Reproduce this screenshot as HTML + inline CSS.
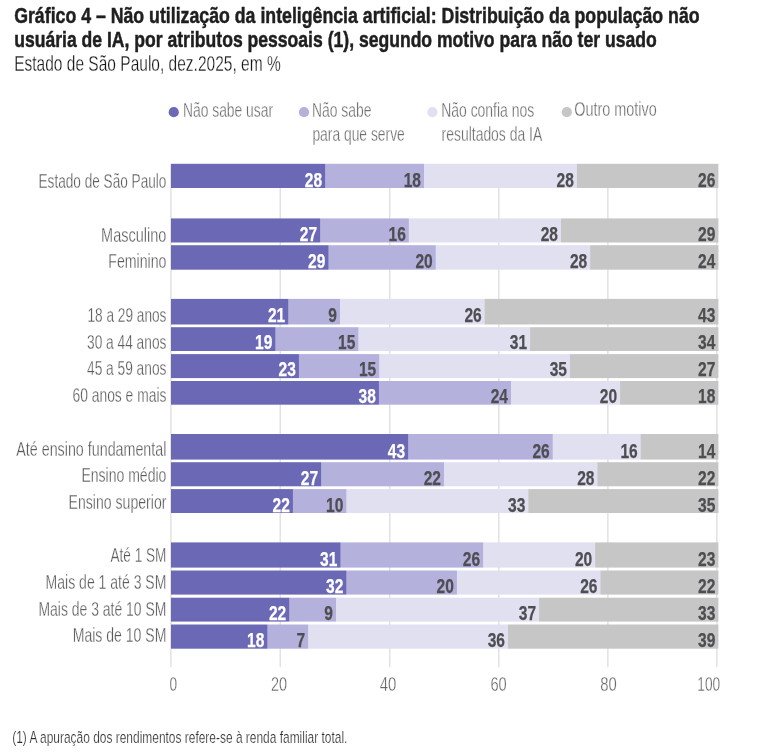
<!DOCTYPE html>
<html lang="pt-BR">
<head>
<meta charset="utf-8">
<title>Gráfico 4</title>
<style>
html,body{margin:0;padding:0;background:#ffffff;}
body{width:783px;height:754px;overflow:hidden;font-family:"Liberation Sans",sans-serif;}
svg{display:block;font-family:"Liberation Sans",sans-serif;will-change:transform;}
svg text{font-family:"Liberation Sans",sans-serif;}
</style>
</head>
<body>
<svg width="783" height="754" viewBox="0 0 783 754">
<rect x="0" y="0" width="783" height="754" fill="#ffffff"/>
<text x="14.20" y="22.50" font-size="22.5" fill="#1f1f1f" text-anchor="start" font-weight="bold" stroke="#1f1f1f" stroke-width="0.5" textLength="685.40" lengthAdjust="spacingAndGlyphs">Gráfico 4 – Não utilização da inteligência artificial: Distribuição da população não</text>
<text x="14.20" y="46.70" font-size="22.5" fill="#1f1f1f" text-anchor="start" font-weight="bold" stroke="#1f1f1f" stroke-width="0.5" textLength="642.50" lengthAdjust="spacingAndGlyphs">usuária de IA, por atributos pessoais (1), segundo motivo para não ter usado</text>
<text x="14.20" y="70.80" font-size="22" fill="#161616" text-anchor="start" stroke="#ffffff" stroke-width="0.3" textLength="266.50" lengthAdjust="spacingAndGlyphs">Estado de São Paulo, dez.2025, em %</text>
<circle cx="173.75" cy="112.2" r="5.1" fill="#6b69b5"/>
<circle cx="304.0" cy="112.2" r="5.1" fill="#b4b1dc"/>
<circle cx="432.4" cy="112.2" r="5.1" fill="#e1e0f0"/>
<circle cx="566.8" cy="112.2" r="5.1" fill="#c6c6c6"/>
<text x="183.00" y="116.80" font-size="19.7" fill="#6c6c6c" text-anchor="start" stroke="#ffffff" stroke-width="0.3" textLength="90.00" lengthAdjust="spacingAndGlyphs">Não sabe usar</text>
<text x="312.00" y="116.80" font-size="19.7" fill="#6c6c6c" text-anchor="start" stroke="#ffffff" stroke-width="0.3" textLength="59.40" lengthAdjust="spacingAndGlyphs">Não sabe</text>
<text x="312.40" y="140.70" font-size="19.7" fill="#6c6c6c" text-anchor="start" stroke="#ffffff" stroke-width="0.3" textLength="92.40" lengthAdjust="spacingAndGlyphs">para que serve</text>
<text x="441.20" y="116.80" font-size="19.7" fill="#6c6c6c" text-anchor="start" stroke="#ffffff" stroke-width="0.3" textLength="93.00" lengthAdjust="spacingAndGlyphs">Não confia nos</text>
<text x="441.60" y="140.70" font-size="19.7" fill="#6c6c6c" text-anchor="start" stroke="#ffffff" stroke-width="0.3" textLength="100.60" lengthAdjust="spacingAndGlyphs">resultados da IA</text>
<text x="574.20" y="115.90" font-size="19.7" fill="#6c6c6c" text-anchor="start" stroke="#ffffff" stroke-width="0.3" textLength="82.60" lengthAdjust="spacingAndGlyphs">Outro motivo</text>
<rect x="279.50" y="164" width="1.5" height="503" fill="#e2e2e2"/>
<rect x="389.00" y="164" width="1.5" height="503" fill="#e2e2e2"/>
<rect x="498.00" y="164" width="1.5" height="503" fill="#e2e2e2"/>
<rect x="607.10" y="164" width="1.5" height="503" fill="#e2e2e2"/>
<rect x="716.10" y="164" width="1.5" height="503" fill="#e2e2e2"/>
<rect x="170.1" y="164" width="1.6" height="503" fill="#e4e4e4"/>
<linearGradient id="g0" gradientUnits="userSpaceOnUse" x1="171.0" y1="0" x2="718.4" y2="0"><stop offset="0" stop-color="#6b69b5"/><stop offset="0.28060" stop-color="#6b69b5"/><stop offset="0.28243" stop-color="#b4b1dc"/><stop offset="0.46127" stop-color="#b4b1dc"/><stop offset="0.46310" stop-color="#e1e0f0"/><stop offset="0.74059" stop-color="#e1e0f0"/><stop offset="0.74242" stop-color="#c6c6c6"/><stop offset="1" stop-color="#c6c6c6"/></linearGradient>
<rect x="171.00" y="163.80" width="547.40" height="24.20" fill="url(#g0)"/>
<text x="322.10" y="187.00" font-size="19.7" fill="#ffffff" text-anchor="end" font-weight="bold" stroke="#ffffff" stroke-width="0.25" textLength="17.30" lengthAdjust="spacingAndGlyphs">28</text>
<text x="421.00" y="187.00" font-size="19.7" fill="#4e4e52" text-anchor="end" font-weight="bold" stroke="#4e4e52" stroke-width="0.25" textLength="17.30" lengthAdjust="spacingAndGlyphs">18</text>
<text x="573.90" y="187.00" font-size="19.7" fill="#4e4e52" text-anchor="end" font-weight="bold" stroke="#4e4e52" stroke-width="0.25" textLength="17.30" lengthAdjust="spacingAndGlyphs">28</text>
<text x="715.40" y="187.00" font-size="19.7" fill="#4e4e52" text-anchor="end" font-weight="bold" stroke="#4e4e52" stroke-width="0.25" textLength="17.30" lengthAdjust="spacingAndGlyphs">26</text>
<text x="166.40" y="188.00" font-size="19.7" fill="#5a5a5a" text-anchor="end" stroke="#ffffff" stroke-width="0.3" textLength="127.90" lengthAdjust="spacingAndGlyphs">Estado de São Paulo</text>
<linearGradient id="g2" gradientUnits="userSpaceOnUse" x1="171.0" y1="0" x2="718.4" y2="0"><stop offset="0" stop-color="#6b69b5"/><stop offset="0.27147" stop-color="#6b69b5"/><stop offset="0.27329" stop-color="#b4b1dc"/><stop offset="0.43350" stop-color="#b4b1dc"/><stop offset="0.43533" stop-color="#e1e0f0"/><stop offset="0.71155" stop-color="#e1e0f0"/><stop offset="0.71337" stop-color="#c6c6c6"/><stop offset="1" stop-color="#c6c6c6"/></linearGradient>
<rect x="171.00" y="218.40" width="547.40" height="24.10" fill="url(#g2)"/>
<text x="317.10" y="241.00" font-size="19.7" fill="#ffffff" text-anchor="end" font-weight="bold" stroke="#ffffff" stroke-width="0.25" textLength="17.30" lengthAdjust="spacingAndGlyphs">27</text>
<text x="405.80" y="241.00" font-size="19.7" fill="#4e4e52" text-anchor="end" font-weight="bold" stroke="#4e4e52" stroke-width="0.25" textLength="17.30" lengthAdjust="spacingAndGlyphs">16</text>
<text x="558.00" y="241.00" font-size="19.7" fill="#4e4e52" text-anchor="end" font-weight="bold" stroke="#4e4e52" stroke-width="0.25" textLength="17.30" lengthAdjust="spacingAndGlyphs">28</text>
<text x="715.40" y="241.00" font-size="19.7" fill="#4e4e52" text-anchor="end" font-weight="bold" stroke="#4e4e52" stroke-width="0.25" textLength="17.30" lengthAdjust="spacingAndGlyphs">29</text>
<text x="166.40" y="242.00" font-size="19.7" fill="#5a5a5a" text-anchor="end" stroke="#ffffff" stroke-width="0.3" textLength="65.30" lengthAdjust="spacingAndGlyphs">Masculino</text>
<linearGradient id="g3" gradientUnits="userSpaceOnUse" x1="171.0" y1="0" x2="718.4" y2="0"><stop offset="0" stop-color="#6b69b5"/><stop offset="0.28663" stop-color="#6b69b5"/><stop offset="0.28845" stop-color="#b4b1dc"/><stop offset="0.48265" stop-color="#b4b1dc"/><stop offset="0.48447" stop-color="#e1e0f0"/><stop offset="0.76489" stop-color="#e1e0f0"/><stop offset="0.76672" stop-color="#c6c6c6"/><stop offset="1" stop-color="#c6c6c6"/></linearGradient>
<rect x="171.00" y="245.20" width="547.40" height="24.50" fill="url(#g3)"/>
<text x="325.40" y="268.00" font-size="19.7" fill="#ffffff" text-anchor="end" font-weight="bold" stroke="#ffffff" stroke-width="0.25" textLength="17.30" lengthAdjust="spacingAndGlyphs">29</text>
<text x="432.70" y="268.00" font-size="19.7" fill="#4e4e52" text-anchor="end" font-weight="bold" stroke="#4e4e52" stroke-width="0.25" textLength="17.30" lengthAdjust="spacingAndGlyphs">20</text>
<text x="587.20" y="268.00" font-size="19.7" fill="#4e4e52" text-anchor="end" font-weight="bold" stroke="#4e4e52" stroke-width="0.25" textLength="17.30" lengthAdjust="spacingAndGlyphs">28</text>
<text x="715.40" y="268.00" font-size="19.7" fill="#4e4e52" text-anchor="end" font-weight="bold" stroke="#4e4e52" stroke-width="0.25" textLength="17.30" lengthAdjust="spacingAndGlyphs">24</text>
<text x="166.40" y="268.00" font-size="19.7" fill="#5a5a5a" text-anchor="end" stroke="#ffffff" stroke-width="0.3" textLength="58.10" lengthAdjust="spacingAndGlyphs">Feminino</text>
<linearGradient id="g5" gradientUnits="userSpaceOnUse" x1="171.0" y1="0" x2="718.4" y2="0"><stop offset="0" stop-color="#6b69b5"/><stop offset="0.21319" stop-color="#6b69b5"/><stop offset="0.21502" stop-color="#b4b1dc"/><stop offset="0.30782" stop-color="#b4b1dc"/><stop offset="0.30965" stop-color="#e1e0f0"/><stop offset="0.57216" stop-color="#e1e0f0"/><stop offset="0.57399" stop-color="#c6c6c6"/><stop offset="1" stop-color="#c6c6c6"/></linearGradient>
<rect x="171.00" y="298.90" width="547.40" height="25.60" fill="url(#g5)"/>
<text x="285.20" y="322.00" font-size="19.7" fill="#ffffff" text-anchor="end" font-weight="bold" stroke="#ffffff" stroke-width="0.25" textLength="17.30" lengthAdjust="spacingAndGlyphs">21</text>
<text x="337.00" y="322.00" font-size="19.7" fill="#4e4e52" text-anchor="end" font-weight="bold" stroke="#4e4e52" stroke-width="0.25" textLength="8.65" lengthAdjust="spacingAndGlyphs">9</text>
<text x="481.70" y="322.00" font-size="19.7" fill="#4e4e52" text-anchor="end" font-weight="bold" stroke="#4e4e52" stroke-width="0.25" textLength="17.30" lengthAdjust="spacingAndGlyphs">26</text>
<text x="715.40" y="322.00" font-size="19.7" fill="#4e4e52" text-anchor="end" font-weight="bold" stroke="#4e4e52" stroke-width="0.25" textLength="17.30" lengthAdjust="spacingAndGlyphs">43</text>
<text x="166.40" y="322.00" font-size="19.7" fill="#5a5a5a" text-anchor="end" stroke="#ffffff" stroke-width="0.3" textLength="78.90" lengthAdjust="spacingAndGlyphs">18 a 29 anos</text>
<linearGradient id="g6" gradientUnits="userSpaceOnUse" x1="171.0" y1="0" x2="718.4" y2="0"><stop offset="0" stop-color="#6b69b5"/><stop offset="0.18962" stop-color="#6b69b5"/><stop offset="0.19145" stop-color="#b4b1dc"/><stop offset="0.34125" stop-color="#b4b1dc"/><stop offset="0.34308" stop-color="#e1e0f0"/><stop offset="0.65510" stop-color="#e1e0f0"/><stop offset="0.65692" stop-color="#c6c6c6"/><stop offset="1" stop-color="#c6c6c6"/></linearGradient>
<rect x="171.00" y="327.20" width="547.40" height="23.80" fill="url(#g6)"/>
<text x="272.30" y="349.00" font-size="19.7" fill="#ffffff" text-anchor="end" font-weight="bold" stroke="#ffffff" stroke-width="0.25" textLength="17.30" lengthAdjust="spacingAndGlyphs">19</text>
<text x="355.30" y="349.00" font-size="19.7" fill="#4e4e52" text-anchor="end" font-weight="bold" stroke="#4e4e52" stroke-width="0.25" textLength="17.30" lengthAdjust="spacingAndGlyphs">15</text>
<text x="527.10" y="349.00" font-size="19.7" fill="#4e4e52" text-anchor="end" font-weight="bold" stroke="#4e4e52" stroke-width="0.25" textLength="17.30" lengthAdjust="spacingAndGlyphs">31</text>
<text x="715.40" y="349.00" font-size="19.7" fill="#4e4e52" text-anchor="end" font-weight="bold" stroke="#4e4e52" stroke-width="0.25" textLength="17.30" lengthAdjust="spacingAndGlyphs">34</text>
<text x="166.40" y="349.00" font-size="19.7" fill="#5a5a5a" text-anchor="end" stroke="#ffffff" stroke-width="0.3" textLength="79.40" lengthAdjust="spacingAndGlyphs">30 a 44 anos</text>
<linearGradient id="g7" gradientUnits="userSpaceOnUse" x1="171.0" y1="0" x2="718.4" y2="0"><stop offset="0" stop-color="#6b69b5"/><stop offset="0.23274" stop-color="#6b69b5"/><stop offset="0.23456" stop-color="#b4b1dc"/><stop offset="0.37943" stop-color="#b4b1dc"/><stop offset="0.38126" stop-color="#e1e0f0"/><stop offset="0.72799" stop-color="#e1e0f0"/><stop offset="0.72981" stop-color="#c6c6c6"/><stop offset="1" stop-color="#c6c6c6"/></linearGradient>
<rect x="171.00" y="354.10" width="547.40" height="24.00" fill="url(#g7)"/>
<text x="295.90" y="376.00" font-size="19.7" fill="#ffffff" text-anchor="end" font-weight="bold" stroke="#ffffff" stroke-width="0.25" textLength="17.30" lengthAdjust="spacingAndGlyphs">23</text>
<text x="376.20" y="376.00" font-size="19.7" fill="#4e4e52" text-anchor="end" font-weight="bold" stroke="#4e4e52" stroke-width="0.25" textLength="17.30" lengthAdjust="spacingAndGlyphs">15</text>
<text x="567.00" y="376.00" font-size="19.7" fill="#4e4e52" text-anchor="end" font-weight="bold" stroke="#4e4e52" stroke-width="0.25" textLength="17.30" lengthAdjust="spacingAndGlyphs">35</text>
<text x="715.40" y="376.00" font-size="19.7" fill="#4e4e52" text-anchor="end" font-weight="bold" stroke="#4e4e52" stroke-width="0.25" textLength="17.30" lengthAdjust="spacingAndGlyphs">27</text>
<text x="166.40" y="375.00" font-size="19.7" fill="#5a5a5a" text-anchor="end" stroke="#ffffff" stroke-width="0.3" textLength="79.40" lengthAdjust="spacingAndGlyphs">45 a 59 anos</text>
<linearGradient id="g8" gradientUnits="userSpaceOnUse" x1="171.0" y1="0" x2="718.4" y2="0"><stop offset="0" stop-color="#6b69b5"/><stop offset="0.37888" stop-color="#6b69b5"/><stop offset="0.38071" stop-color="#b4b1dc"/><stop offset="0.62020" stop-color="#b4b1dc"/><stop offset="0.62203" stop-color="#e1e0f0"/><stop offset="0.81951" stop-color="#e1e0f0"/><stop offset="0.82134" stop-color="#c6c6c6"/><stop offset="1" stop-color="#c6c6c6"/></linearGradient>
<rect x="171.00" y="381.00" width="547.40" height="23.70" fill="url(#g8)"/>
<text x="375.90" y="403.00" font-size="19.7" fill="#ffffff" text-anchor="end" font-weight="bold" stroke="#ffffff" stroke-width="0.25" textLength="17.30" lengthAdjust="spacingAndGlyphs">38</text>
<text x="508.00" y="403.00" font-size="19.7" fill="#4e4e52" text-anchor="end" font-weight="bold" stroke="#4e4e52" stroke-width="0.25" textLength="17.30" lengthAdjust="spacingAndGlyphs">24</text>
<text x="617.10" y="403.00" font-size="19.7" fill="#4e4e52" text-anchor="end" font-weight="bold" stroke="#4e4e52" stroke-width="0.25" textLength="17.30" lengthAdjust="spacingAndGlyphs">20</text>
<text x="715.40" y="403.00" font-size="19.7" fill="#4e4e52" text-anchor="end" font-weight="bold" stroke="#4e4e52" stroke-width="0.25" textLength="17.30" lengthAdjust="spacingAndGlyphs">18</text>
<text x="166.40" y="402.00" font-size="19.7" fill="#5a5a5a" text-anchor="end" stroke="#ffffff" stroke-width="0.3" textLength="93.90" lengthAdjust="spacingAndGlyphs">60 anos e mais</text>
<linearGradient id="g10" gradientUnits="userSpaceOnUse" x1="171.0" y1="0" x2="718.4" y2="0"><stop offset="0" stop-color="#6b69b5"/><stop offset="0.43223" stop-color="#6b69b5"/><stop offset="0.43405" stop-color="#b4b1dc"/><stop offset="0.69638" stop-color="#b4b1dc"/><stop offset="0.69821" stop-color="#e1e0f0"/><stop offset="0.85714" stop-color="#e1e0f0"/><stop offset="0.85897" stop-color="#c6c6c6"/><stop offset="1" stop-color="#c6c6c6"/></linearGradient>
<rect x="171.00" y="434.00" width="547.40" height="25.60" fill="url(#g10)"/>
<text x="405.10" y="458.00" font-size="19.7" fill="#ffffff" text-anchor="end" font-weight="bold" stroke="#ffffff" stroke-width="0.25" textLength="17.30" lengthAdjust="spacingAndGlyphs">43</text>
<text x="549.70" y="458.00" font-size="19.7" fill="#4e4e52" text-anchor="end" font-weight="bold" stroke="#4e4e52" stroke-width="0.25" textLength="17.30" lengthAdjust="spacingAndGlyphs">26</text>
<text x="637.70" y="458.00" font-size="19.7" fill="#4e4e52" text-anchor="end" font-weight="bold" stroke="#4e4e52" stroke-width="0.25" textLength="17.30" lengthAdjust="spacingAndGlyphs">16</text>
<text x="715.40" y="458.00" font-size="19.7" fill="#4e4e52" text-anchor="end" font-weight="bold" stroke="#4e4e52" stroke-width="0.25" textLength="17.30" lengthAdjust="spacingAndGlyphs">14</text>
<text x="166.40" y="456.00" font-size="19.7" fill="#5a5a5a" text-anchor="end" stroke="#ffffff" stroke-width="0.3" textLength="150.10" lengthAdjust="spacingAndGlyphs">Até ensino fundamental</text>
<linearGradient id="g11" gradientUnits="userSpaceOnUse" x1="171.0" y1="0" x2="718.4" y2="0"><stop offset="0" stop-color="#6b69b5"/><stop offset="0.27329" stop-color="#6b69b5"/><stop offset="0.27512" stop-color="#b4b1dc"/><stop offset="0.49781" stop-color="#b4b1dc"/><stop offset="0.49963" stop-color="#e1e0f0"/><stop offset="0.77822" stop-color="#e1e0f0"/><stop offset="0.78005" stop-color="#c6c6c6"/><stop offset="1" stop-color="#c6c6c6"/></linearGradient>
<rect x="171.00" y="462.20" width="547.40" height="24.10" fill="url(#g11)"/>
<text x="318.10" y="485.00" font-size="19.7" fill="#ffffff" text-anchor="end" font-weight="bold" stroke="#ffffff" stroke-width="0.25" textLength="17.30" lengthAdjust="spacingAndGlyphs">27</text>
<text x="441.00" y="485.00" font-size="19.7" fill="#4e4e52" text-anchor="end" font-weight="bold" stroke="#4e4e52" stroke-width="0.25" textLength="17.30" lengthAdjust="spacingAndGlyphs">22</text>
<text x="594.50" y="485.00" font-size="19.7" fill="#4e4e52" text-anchor="end" font-weight="bold" stroke="#4e4e52" stroke-width="0.25" textLength="17.30" lengthAdjust="spacingAndGlyphs">28</text>
<text x="715.40" y="485.00" font-size="19.7" fill="#4e4e52" text-anchor="end" font-weight="bold" stroke="#4e4e52" stroke-width="0.25" textLength="17.30" lengthAdjust="spacingAndGlyphs">22</text>
<text x="166.40" y="482.00" font-size="19.7" fill="#5a5a5a" text-anchor="end" stroke="#ffffff" stroke-width="0.3" textLength="85.00" lengthAdjust="spacingAndGlyphs">Ensino médio</text>
<linearGradient id="g12" gradientUnits="userSpaceOnUse" x1="171.0" y1="0" x2="718.4" y2="0"><stop offset="0" stop-color="#6b69b5"/><stop offset="0.22178" stop-color="#6b69b5"/><stop offset="0.22360" stop-color="#b4b1dc"/><stop offset="0.31933" stop-color="#b4b1dc"/><stop offset="0.32115" stop-color="#e1e0f0"/><stop offset="0.65199" stop-color="#e1e0f0"/><stop offset="0.65382" stop-color="#c6c6c6"/><stop offset="1" stop-color="#c6c6c6"/></linearGradient>
<rect x="171.00" y="489.10" width="547.40" height="23.90" fill="url(#g12)"/>
<text x="289.90" y="512.00" font-size="19.7" fill="#ffffff" text-anchor="end" font-weight="bold" stroke="#ffffff" stroke-width="0.25" textLength="17.30" lengthAdjust="spacingAndGlyphs">22</text>
<text x="343.30" y="512.00" font-size="19.7" fill="#4e4e52" text-anchor="end" font-weight="bold" stroke="#4e4e52" stroke-width="0.25" textLength="17.30" lengthAdjust="spacingAndGlyphs">10</text>
<text x="525.40" y="512.00" font-size="19.7" fill="#4e4e52" text-anchor="end" font-weight="bold" stroke="#4e4e52" stroke-width="0.25" textLength="17.30" lengthAdjust="spacingAndGlyphs">33</text>
<text x="715.40" y="512.00" font-size="19.7" fill="#4e4e52" text-anchor="end" font-weight="bold" stroke="#4e4e52" stroke-width="0.25" textLength="17.30" lengthAdjust="spacingAndGlyphs">35</text>
<text x="166.40" y="509.00" font-size="19.7" fill="#5a5a5a" text-anchor="end" stroke="#ffffff" stroke-width="0.3" textLength="97.80" lengthAdjust="spacingAndGlyphs">Ensino superior</text>
<linearGradient id="g14" gradientUnits="userSpaceOnUse" x1="171.0" y1="0" x2="718.4" y2="0"><stop offset="0" stop-color="#6b69b5"/><stop offset="0.30855" stop-color="#6b69b5"/><stop offset="0.31038" stop-color="#b4b1dc"/><stop offset="0.56924" stop-color="#b4b1dc"/><stop offset="0.57106" stop-color="#e1e0f0"/><stop offset="0.77402" stop-color="#e1e0f0"/><stop offset="0.77585" stop-color="#c6c6c6"/><stop offset="1" stop-color="#c6c6c6"/></linearGradient>
<rect x="171.00" y="542.40" width="547.40" height="25.20" fill="url(#g14)"/>
<text x="337.40" y="566.00" font-size="19.7" fill="#ffffff" text-anchor="end" font-weight="bold" stroke="#ffffff" stroke-width="0.25" textLength="17.30" lengthAdjust="spacingAndGlyphs">31</text>
<text x="480.10" y="566.00" font-size="19.7" fill="#4e4e52" text-anchor="end" font-weight="bold" stroke="#4e4e52" stroke-width="0.25" textLength="17.30" lengthAdjust="spacingAndGlyphs">26</text>
<text x="592.20" y="566.00" font-size="19.7" fill="#4e4e52" text-anchor="end" font-weight="bold" stroke="#4e4e52" stroke-width="0.25" textLength="17.30" lengthAdjust="spacingAndGlyphs">20</text>
<text x="715.40" y="566.00" font-size="19.7" fill="#4e4e52" text-anchor="end" font-weight="bold" stroke="#4e4e52" stroke-width="0.25" textLength="17.30" lengthAdjust="spacingAndGlyphs">23</text>
<text x="166.40" y="562.00" font-size="19.7" fill="#5a5a5a" text-anchor="end" stroke="#ffffff" stroke-width="0.3" textLength="55.90" lengthAdjust="spacingAndGlyphs">Até 1 SM</text>
<linearGradient id="g15" gradientUnits="userSpaceOnUse" x1="171.0" y1="0" x2="718.4" y2="0"><stop offset="0" stop-color="#6b69b5"/><stop offset="0.31933" stop-color="#6b69b5"/><stop offset="0.32115" stop-color="#b4b1dc"/><stop offset="0.52137" stop-color="#b4b1dc"/><stop offset="0.52320" stop-color="#e1e0f0"/><stop offset="0.78370" stop-color="#e1e0f0"/><stop offset="0.78553" stop-color="#c6c6c6"/><stop offset="1" stop-color="#c6c6c6"/></linearGradient>
<rect x="171.00" y="570.50" width="547.40" height="24.10" fill="url(#g15)"/>
<text x="343.30" y="593.00" font-size="19.7" fill="#ffffff" text-anchor="end" font-weight="bold" stroke="#ffffff" stroke-width="0.25" textLength="17.30" lengthAdjust="spacingAndGlyphs">32</text>
<text x="453.90" y="593.00" font-size="19.7" fill="#4e4e52" text-anchor="end" font-weight="bold" stroke="#4e4e52" stroke-width="0.25" textLength="17.30" lengthAdjust="spacingAndGlyphs">20</text>
<text x="597.50" y="593.00" font-size="19.7" fill="#4e4e52" text-anchor="end" font-weight="bold" stroke="#4e4e52" stroke-width="0.25" textLength="17.30" lengthAdjust="spacingAndGlyphs">26</text>
<text x="715.40" y="593.00" font-size="19.7" fill="#4e4e52" text-anchor="end" font-weight="bold" stroke="#4e4e52" stroke-width="0.25" textLength="17.30" lengthAdjust="spacingAndGlyphs">22</text>
<text x="166.40" y="589.00" font-size="19.7" fill="#5a5a5a" text-anchor="end" stroke="#ffffff" stroke-width="0.3" textLength="120.80" lengthAdjust="spacingAndGlyphs">Mais de 1 até 3 SM</text>
<linearGradient id="g16" gradientUnits="userSpaceOnUse" x1="171.0" y1="0" x2="718.4" y2="0"><stop offset="0" stop-color="#6b69b5"/><stop offset="0.21502" stop-color="#6b69b5"/><stop offset="0.21684" stop-color="#b4b1dc"/><stop offset="0.30051" stop-color="#b4b1dc"/><stop offset="0.30234" stop-color="#e1e0f0"/><stop offset="0.67154" stop-color="#e1e0f0"/><stop offset="0.67336" stop-color="#c6c6c6"/><stop offset="1" stop-color="#c6c6c6"/></linearGradient>
<rect x="171.00" y="597.70" width="547.40" height="23.90" fill="url(#g16)"/>
<text x="286.20" y="620.00" font-size="19.7" fill="#ffffff" text-anchor="end" font-weight="bold" stroke="#ffffff" stroke-width="0.25" textLength="17.30" lengthAdjust="spacingAndGlyphs">22</text>
<text x="333.00" y="620.00" font-size="19.7" fill="#4e4e52" text-anchor="end" font-weight="bold" stroke="#4e4e52" stroke-width="0.25" textLength="8.65" lengthAdjust="spacingAndGlyphs">9</text>
<text x="536.10" y="620.00" font-size="19.7" fill="#4e4e52" text-anchor="end" font-weight="bold" stroke="#4e4e52" stroke-width="0.25" textLength="17.30" lengthAdjust="spacingAndGlyphs">37</text>
<text x="715.40" y="620.00" font-size="19.7" fill="#4e4e52" text-anchor="end" font-weight="bold" stroke="#4e4e52" stroke-width="0.25" textLength="17.30" lengthAdjust="spacingAndGlyphs">33</text>
<text x="166.40" y="616.00" font-size="19.7" fill="#5a5a5a" text-anchor="end" stroke="#ffffff" stroke-width="0.3" textLength="127.90" lengthAdjust="spacingAndGlyphs">Mais de 3 até 10 SM</text>
<linearGradient id="g17" gradientUnits="userSpaceOnUse" x1="171.0" y1="0" x2="718.4" y2="0"><stop offset="0" stop-color="#6b69b5"/><stop offset="0.17501" stop-color="#6b69b5"/><stop offset="0.17684" stop-color="#b4b1dc"/><stop offset="0.24954" stop-color="#b4b1dc"/><stop offset="0.25137" stop-color="#e1e0f0"/><stop offset="0.61472" stop-color="#e1e0f0"/><stop offset="0.61655" stop-color="#c6c6c6"/><stop offset="1" stop-color="#c6c6c6"/></linearGradient>
<rect x="171.00" y="624.50" width="547.40" height="24.20" fill="url(#g17)"/>
<text x="264.30" y="647.00" font-size="19.7" fill="#ffffff" text-anchor="end" font-weight="bold" stroke="#ffffff" stroke-width="0.25" textLength="17.30" lengthAdjust="spacingAndGlyphs">18</text>
<text x="305.10" y="647.00" font-size="19.7" fill="#4e4e52" text-anchor="end" font-weight="bold" stroke="#4e4e52" stroke-width="0.25" textLength="8.65" lengthAdjust="spacingAndGlyphs">7</text>
<text x="505.00" y="647.00" font-size="19.7" fill="#4e4e52" text-anchor="end" font-weight="bold" stroke="#4e4e52" stroke-width="0.25" textLength="17.30" lengthAdjust="spacingAndGlyphs">36</text>
<text x="715.40" y="647.00" font-size="19.7" fill="#4e4e52" text-anchor="end" font-weight="bold" stroke="#4e4e52" stroke-width="0.25" textLength="17.30" lengthAdjust="spacingAndGlyphs">39</text>
<text x="166.40" y="642.00" font-size="19.7" fill="#5a5a5a" text-anchor="end" stroke="#ffffff" stroke-width="0.3" textLength="93.70" lengthAdjust="spacingAndGlyphs">Mais de 10 SM</text>
<text x="169.40" y="690.80" font-size="19.7" fill="#666666" text-anchor="start" stroke="#ffffff" stroke-width="0.3" textLength="7.60" lengthAdjust="spacingAndGlyphs">0</text>
<text x="271.00" y="690.80" font-size="19.7" fill="#666666" text-anchor="start" stroke="#ffffff" stroke-width="0.3" textLength="16.10" lengthAdjust="spacingAndGlyphs">20</text>
<text x="379.80" y="690.80" font-size="19.7" fill="#666666" text-anchor="start" stroke="#ffffff" stroke-width="0.3" textLength="16.60" lengthAdjust="spacingAndGlyphs">40</text>
<text x="490.40" y="690.80" font-size="19.7" fill="#666666" text-anchor="start" stroke="#ffffff" stroke-width="0.3" textLength="16.30" lengthAdjust="spacingAndGlyphs">60</text>
<text x="600.30" y="690.80" font-size="19.7" fill="#666666" text-anchor="start" stroke="#ffffff" stroke-width="0.3" textLength="16.50" lengthAdjust="spacingAndGlyphs">80</text>
<text x="697.30" y="690.80" font-size="19.7" fill="#666666" text-anchor="start" stroke="#ffffff" stroke-width="0.3" textLength="22.90" lengthAdjust="spacingAndGlyphs">100</text>
<text x="12.20" y="743.20" font-size="16.6" fill="#2c2c2c" text-anchor="start" stroke="#ffffff" stroke-width="0.24" textLength="335.20" lengthAdjust="spacingAndGlyphs">(1) A apuração dos rendimentos refere-se à renda familiar total.</text>
</svg>
</body>
</html>
